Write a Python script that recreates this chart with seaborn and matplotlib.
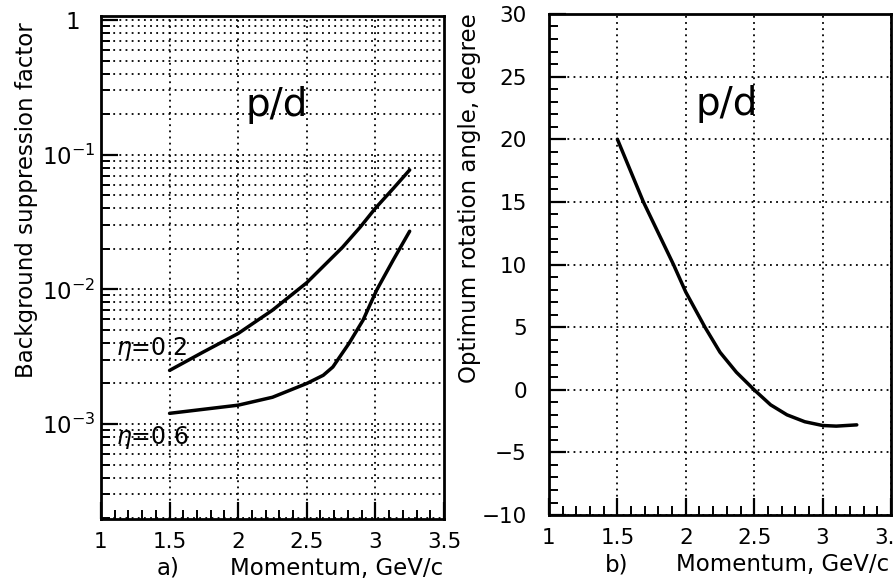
import numpy as np
import pandas as pd
import matplotlib
matplotlib.use("Agg")
import matplotlib.pyplot as plt
import matplotlib.ticker as mticker
import seaborn as sns

# Panel a) background suppression factor vs momentum
mom_02 = [1.5, 1.74, 2.0, 2.25, 2.5, 2.76, 2.89, 3.0, 3.13, 3.25]
supp_02 = [2.5e-3, 3.4e-3, 4.7e-3, 7.0e-3, 1.12e-2, 2.05e-2, 2.9e-2, 4.0e-2, 5.6e-2, 7.7e-2]

mom_06 = [1.5, 2.0, 2.25, 2.5, 2.62, 2.69, 2.81, 2.91, 3.01, 3.13, 3.25]
supp_06 = [1.2e-3, 1.38e-3, 1.58e-3, 2.0e-3, 2.3e-3, 2.65e-3, 4.0e-3, 5.9e-3, 9.9e-3, 1.65e-2, 2.7e-2]

# Panel b) optimum rotation angle vs momentum
mom_b = [1.5, 1.69, 1.91, 2.0, 2.14, 2.25, 2.37, 2.5, 2.62, 2.74, 2.87, 3.0, 3.1, 3.25]
angle_b = [20.0, 15.0, 10.0, 7.8, 5.0, 3.0, 1.4, 0.0, -1.2, -2.0, -2.55, -2.85, -2.9, -2.8]

xticks = [1, 1.5, 2, 2.5, 3, 3.5]
xtick_labels = ["1", "1.5", "2", "2.5", "3", "3.5"]

sns.set_style("white")
plt.rcParams["font.family"] = ["DejaVu Sans"]
plt.rcParams["mathtext.fontset"] = "dejavusans"
for k in ["text.color", "axes.labelcolor", "xtick.color", "ytick.color"]:
    plt.rcParams[k] = "black"

fig = plt.figure(figsize=(8.96, 5.82), dpi=100)
ax1 = fig.add_axes([0.1127, 0.1082, 0.3828, 0.8643])
ax2 = fig.add_axes([0.6127, 0.115, 0.3817, 0.861])

dot = dict(color="black", linestyle=(0, (1, 2.4)), linewidth=1.3)

# ---- panel a
df02 = pd.DataFrame({"p": mom_02, "s": supp_02})
df06 = pd.DataFrame({"p": mom_06, "s": supp_06})
sns.lineplot(data=df02, x="p", y="s", ax=ax1, color="black", linewidth=2.5)
sns.lineplot(data=df06, x="p", y="s", ax=ax1, color="black", linewidth=2.5)
ax1.set_yscale("log")
ax1.set_xlim(1, 3.5)
ax1.set_ylim(1.97e-4, 1.07)
ax1.set_xticks(xticks)
ax1.set_xticklabels(xtick_labels)
ax1.xaxis.set_minor_locator(mticker.MultipleLocator(0.1))
ax1.yaxis.set_major_locator(mticker.FixedLocator([1e-3, 1e-2, 1e-1, 1]))
ax1.set_yticklabels(["$10^{-3}$", "$10^{-2}$", "$10^{-1}$", "1  "])
ax1.yaxis.set_minor_locator(mticker.LogLocator(base=10, subs=np.arange(2, 10)))
ax1.yaxis.set_minor_formatter(mticker.NullFormatter())
ax1.grid(True, which="both", axis="y", **dot)
for xv in [1.5, 2, 2.5, 3]:
    ax1.axvline(xv, **dot)
ax1.text(1.11, 3.66e-3, r"$\eta$=0.2", fontsize=17, va="center")
ax1.text(1.11, 7.9e-4, r"$\eta$=0.6", fontsize=17, va="center")
ax1.text(2.28, 0.235, "p/d", fontsize=28, ha="center", va="center")
ax1.set_ylabel("Background suppression factor", fontsize=16.5)
ax1.yaxis.set_label_coords(-0.185, 0.634)
ax1.set_xlabel("")

# ---- panel b
dfb = pd.DataFrame({"p": mom_b, "a": angle_b})
sns.lineplot(data=dfb, x="p", y="a", ax=ax2, color="black", linewidth=2.5)
ax2.set_xlim(1, 3.5)
ax2.set_ylim(-10, 30)
ax2.set_xticks(xticks)
ax2.set_xticklabels(xtick_labels)
ax2.xaxis.set_minor_locator(mticker.MultipleLocator(0.1))
ax2.yaxis.set_major_locator(mticker.MultipleLocator(5))
ax2.yaxis.set_minor_locator(mticker.MultipleLocator(1))
ax2.grid(True, which="major", **dot)
ax2.text(2.3, 22.8, "p/d", fontsize=28, ha="center", va="center")
ax2.set_ylabel("Optimum rotation angle, degree", fontsize=16.5)
ax2.yaxis.set_label_coords(-0.20, 0.633)
ax2.set_xlabel("")

# x labels with panel letters
fig.text(168 / 896, 1 - 568 / 582, "a)", fontsize=16.5, ha="center", va="center")
fig.text(337 / 896, 1 - 568 / 582, "Momentum, GeV/c", fontsize=16.5, ha="center", va="center")
fig.text(617 / 896, 1 - 565 / 582, "b)", fontsize=16.5, ha="center", va="center")
fig.text(783 / 896, 1 - 565 / 582, "Momentum, GeV/c", fontsize=16.5, ha="center", va="center")

for ax in (ax1, ax2):
    for sp in ax.spines.values():
        sp.set_color("black")
        sp.set_linewidth(2.0)
    ax.tick_params(axis="both", which="both", bottom=True, left=True,
                   top=False, right=False, direction="in", color="black")
    ax.tick_params(axis="both", which="major", length=12, width=1.6,
                   labelsize=15.5)
    ax.tick_params(axis="both", which="minor", length=6.5, width=1.4)
    ax.tick_params(axis="x", which="major", pad=9)
ax2.tick_params(axis="y", which="major", pad=16)
ax1.tick_params(axis="y", which="major", labelsize=16.5, pad=4)

fig.savefig("out.png", dpi=100, facecolor="white")
